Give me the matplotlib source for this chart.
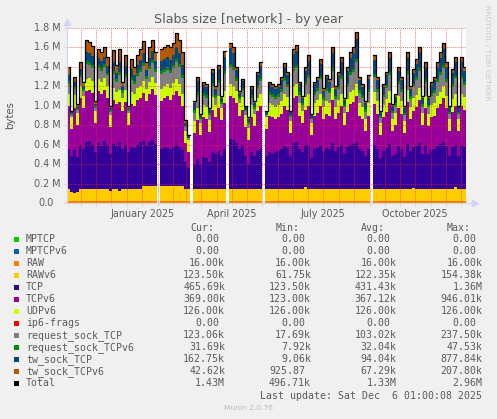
import numpy as np
import matplotlib
matplotlib.use("Agg")
import matplotlib.pyplot as plt
import matplotlib.dates as mdates
from matplotlib.patches import Rectangle
from matplotlib.transforms import blended_transform_factory
from datetime import date

N = None  # no data (gap in the rrd)

# 3-day samples starting 2 Nov 2024, values in kB
raw_v6 = [123.5, 95, 85, 100, 123.5, 123.5, 123.5, 123.5, 123.5, 123.5,
          123.5, 123.5, 123.5, 123.5, 105, 123.5, 123.5, 110, 123.5, 123.5,
          123.5, 123.5, 123.5, 123.5, 123.5, 154, 154, 154, 154, 154,
          N, 154, 154, 154, 154, 154, 154, 154, 154, 123.5,
          123.5, N, 123.5, 123.5, 123.5, 123.5, 123.5, 123.5, 123.5, 123.5,
          123.5, 123.5, 123.5, N, 123.5, 123.5, 123.5, 123.5, 123.5, 123.5,
          123.5, 123.5, 123.5, 123.5, 123.5, N, 123.5, 123.5, 123.5, 123.5,
          123.5, 123.5, 123.5, 123.5, 123.5, 123.5, 123.5, 123.5, 123.5, 145,
          123.5, 123.5, 123.5, 123.5, 123.5, 123.5, 123.5, 123.5, 123.5, 123.5,
          123.5, 123.5, 123.5, 123.5, 123.5, 123.5, 123.5, 123.5, 123.5, 123.5,
          123.5, N, 123.5, 123.5, 123.5, 123.5, 123.5, 123.5, 123.5, 123.5,
          123.5, 123.5, 123.5, 123.5, 123.5, 140, 123.5, 123.5, 123.5, 123.5,
          123.5, 123.5, 123.5, 123.5, 123.5, 123.5, 123.5, 123.5, 123.5, 145,
          123.5, 123.5, 123.5]

tcp = [420, 369, 439, 354, 460, 420, 490, 500, 460, 380,
       480, 450, 500, 460, 379, 470, 450, 504, 420, 460,
       380, 440, 430, 460, 490, 470, 430, 460, 480, 440,
       N, 390, 410, 400, 390, 410, 430, 410, 370, 280,
       220, N, 260, 310, 260, 330, 320, 280, 380, 360,
       400, 340, 420, N, 520, 510, 480, 420, 460, 340,
       260, 380, 340, 400, 420, N, 340, 380, 360, 380,
       400, 420, 450, 430, 340, 480, 490, 420, 380, 439,
       460, 320, 420, 430, 460, 400, 430, 420, 480, 400,
       440, 460, 360, 440, 460, 470, 490, 420, 400, 340,
       420, N, 460, 420, 320, 400, 430, 470, 340, 360,
       450, 420, 330, 470, 400, 424, 450, 480, 360, 450,
       360, 410, 420, 450, 470, 490, 450, 340, 440, 439,
       340, 460, 440]

tcp_v6 = [440, 280, 440, 330, 480, 420, 520, 520, 530, 300,
          530, 530, 520, 480, 280, 450, 430, 410, 390, 440,
          280, 440, 430, 460, 450, 490, 450, 490, 520, 500,
          N, 490, 500, 530, 500, 530, 550, 520, 460, 200,
          160, N, 320, 400, 300, 410, 400, 310, 440, 380,
          440, 370, 470, N, 440, 430, 410, 340, 360, 300,
          250, 360, 310, 410, 440, N, 280, 380, 380, 340,
          340, 360, 410, 390, 240, 460, 470, 340, 300, 360,
          400, 240, 340, 360, 400, 320, 350, 340, 440, 320,
          350, 400, 300, 360, 420, 430, 470, 340, 320, 260,
          340, N, 420, 360, 240, 340, 370, 420, 260, 300,
          390, 360, 250, 430, 320, 370, 400, 440, 300, 390,
          290, 330, 340, 390, 410, 450, 390, 260, 360, 400,
          260, 400, 380]

req_tcp = [98, 20, 68, 32, 86, 50, 150, 138, 134, 36,
           110, 110, 114, 106, 32, 142, 98, 154, 60, 130,
           24, 122, 98, 122, 138, 154, 98, 130, 142, 114,
           N, 150, 146, 146, 154, 154, 178, 170, 158, 36,
           18, N, 81, 132, 36, 96, 92, 47, 119, 76,
           128, 47, 168, N, 177, 164, 96, 47, 76, 36,
           40, 76, 51, 110, 132, N, 24, 87, 83, 83,
           83, 101, 128, 105, 40, 155, 164, 87, 60, 128,
           164, 36, 87, 96, 146, 76, 110, 101, 173, 83,
           119, 155, 60, 137, 168, 182, 227, 110, 92, 72,
           119, N, 155, 101, 47, 83, 114, 164, 60, 76,
           119, 101, 60, 159, 83, 123, 150, 173, 67, 141,
           72, 96, 110, 141, 168, 186, 141, 51, 128, 155,
           51, 155, 128]

req_tcp_v6 = [30, 15, 25, 15, 30, 20, 30, 30, 30, 15,
              30, 30, 30, 30, 15, 30, 30, 30, 25, 30,
              15, 30, 30, 30, 30, 30, 30, 30, 30, 30,
              N, 30, 30, 30, 30, 30, 30, 30, 30, 15,
              10, N, 25, 30, 15, 30, 30, 20, 30, 25,
              30, 20, 30, N, 30, 30, 30, 20, 25, 15,
              15, 25, 20, 30, 30, N, 10, 30, 30, 30,
              30, 30, 30, 30, 15, 30, 30, 30, 20, 30,
              30, 15, 30, 30, 30, 25, 30, 30, 30, 30,
              30, 30, 20, 30, 30, 30, 30, 30, 30, 25,
              30, N, 30, 30, 20, 30, 30, 30, 20, 25,
              30, 30, 20, 30, 30, 30, 30, 30, 25, 30,
              25, 30, 30, 30, 30, 30, 30, 20, 30, 30,
              20, 30, 30]

tw_tcp = [66, 13, 46, 21, 58, 33, 101, 93, 90, 24,
          74, 74, 77, 71, 21, 96, 66, 104, 40, 87,
          16, 82, 66, 82, 93, 104, 66, 87, 96, 77,
          N, 101, 98, 98, 104, 104, 120, 114, 106, 24,
          12, N, 72, 118, 32, 86, 82, 42, 106, 68,
          114, 42, 150, N, 158, 146, 86, 42, 68, 32,
          36, 68, 46, 98, 118, N, 22, 78, 74, 74,
          74, 90, 114, 94, 36, 138, 146, 78, 54, 114,
          146, 32, 78, 86, 130, 68, 98, 90, 154, 74,
          106, 138, 54, 122, 150, 162, 202, 98, 82, 64,
          106, N, 138, 90, 42, 74, 102, 146, 54, 68,
          106, 90, 54, 142, 74, 110, 134, 154, 60, 126,
          64, 86, 98, 126, 150, 166, 126, 46, 114, 138,
          46, 138, 114]

tw_tcp_v6 = [80, 16, 55, 26, 70, 41, 123, 113, 110, 29,
             90, 90, 93, 87, 26, 116, 80, 126, 49, 107,
             19, 100, 80, 100, 113, 126, 80, 107, 116, 93,
             N, 123, 120, 120, 126, 126, 146, 140, 130, 29,
             14, N, 27, 44, 12, 32, 31, 16, 40, 25,
             43, 16, 56, N, 59, 55, 32, 16, 25, 12,
             13, 25, 17, 37, 44, N, 8, 29, 28, 28,
             28, 34, 43, 35, 13, 52, 55, 29, 20, 43,
             55, 12, 29, 32, 49, 25, 37, 34, 58, 28,
             40, 52, 20, 46, 56, 61, 76, 37, 31, 24,
             40, N, 52, 34, 16, 28, 38, 55, 20, 25,
             40, 34, 20, 53, 28, 41, 50, 58, 22, 47,
             24, 32, 37, 47, 56, 62, 47, 17, 43, 52,
             17, 52, 43]

# flat series (kB)
raw_k = 16.0
udp_v6_k = 126.0

# legend table
names = ["MPTCP", "MPTCPv6", "RAW", "RAWv6", "TCP", "TCPv6", "UDPv6", "ip6-frags",
         "request_sock_TCP", "request_sock_TCPv6", "tw_sock_TCP", "tw_sock_TCPv6", "Total"]
colors = ["#00CC00", "#0066B3", "#FF8000", "#FFCC00", "#330099", "#990099", "#CCFF00",
          "#FF0000", "#808080", "#008F00", "#00487D", "#B35A00", "#000000"]
cur_vals = ["0.00", "0.00", "16.00k", "123.50k", "465.69k", "369.00k", "126.00k", "0.00",
            "123.06k", "31.69k", "162.75k", "42.62k", "1.43M"]
min_vals = ["0.00", "0.00", "16.00k", "61.75k", "123.50k", "123.00k", "126.00k", "0.00",
            "17.69k", "7.92k", "9.06k", "925.87", "496.71k"]
avg_vals = ["0.00", "0.00", "16.00k", "122.35k", "431.43k", "367.12k", "126.00k", "0.00",
            "103.02k", "32.04k", "94.04k", "67.29k", "1.33M"]
max_vals = ["0.00", "0.00", "16.00k", "154.38k", "1.36M", "946.01k", "126.00k", "0.00",
            "237.50k", "47.53k", "877.84k", "207.80k", "2.96M"]

start = date(2024, 11, 2)
end = date(2025, 12, 6)
step = 3

W, H = 497, 419
TXT = "#5a5a5a"
GRID = (0.9, 0.2, 0.2, 0.22)
AXIS = "#CFD6F8"

# series -> bytes
tcp = np.array(tcp, dtype=float)
n = len(tcp)
gap = np.isnan(tcp)
series = {
    "MPTCP": np.where(gap, np.nan, 0.0),
    "MPTCPv6": np.where(gap, np.nan, 0.0),
    "RAW": np.where(gap, np.nan, raw_k),
    "RAWv6": np.array(raw_v6, dtype=float),
    "TCP": tcp,
    "TCPv6": np.array(tcp_v6, dtype=float),
    "UDPv6": np.where(gap, np.nan, udp_v6_k),
    "ip6-frags": np.where(gap, np.nan, 0.0),
    "request_sock_TCP": np.array(req_tcp, dtype=float),
    "request_sock_TCPv6": np.array(req_tcp_v6, dtype=float),
    "tw_sock_TCP": np.array(tw_tcp, dtype=float),
    "tw_sock_TCPv6": np.array(tw_tcp_v6, dtype=float),
}

fig = plt.figure(figsize=(W / 100, H / 100), dpi=100, facecolor="#F0F0F0")
ax = fig.add_axes([67 / W, (H - 203) / H, 399 / W, 175 / H])
ax.set_facecolor("white")


def fpos(x, y):
    return x / W, 1 - y / H


x0 = mdates.date2num(start)
x = x0 + step * np.arange(n)

cum = np.zeros(n)
for name, color in zip(names[:-1], colors[:-1]):
    vals = series[name] * 1000
    ax.bar(x, vals, width=step, bottom=cum, align="edge", color=color, linewidth=0)
    cum = cum + vals
ax.plot(x + step / 2, cum, drawstyle="steps-mid", color="black", lw=0.9, zorder=3)

ax.set_xlim(x0, mdates.date2num(end))
ax.set_ylim(0, 1.8e6)
for s in ax.spines.values():
    s.set_visible(False)

# half-month grid, labels mid-quarter months
ticks, tick_labels = [], []
for yr, mo in [(2024, m) for m in (11, 12)] + [(2025, m) for m in range(1, 13)]:
    for d in (1, 16):
        dt = date(yr, mo, d)
        if start <= dt <= end:
            ticks.append(mdates.date2num(dt))
            tick_labels.append(dt.strftime("%B %Y") if d == 16 and mo in (1, 4, 7, 10) else "")
ax.set_xticks(ticks)
ax.set_xticklabels(tick_labels, fontsize=6.9, color=TXT)
ax.tick_params(axis="x", length=2, width=0.6, color=GRID, pad=2.2)

yt = np.arange(0, 1.8e6 + 1, 0.2e6)
ax.set_yticks(yt)
ax.set_yticklabels([])
ax.tick_params(axis="y", length=2, width=0.6, color=GRID)
ax.set_axisbelow(False)
ax.grid(True, color=GRID, linestyle=(0, (1, 1.6)), lw=0.55)

ytrans = blended_transform_factory(fig.transFigure, ax.transData)
for v in yt:
    lab = f"{v / 1e6:.1f} M" if v else "0.0"
    xr = 60.5 if v else 54
    ax.text(xr / W, v, lab, transform=ytrans, ha="right", va="center",
            fontsize=6.9, color=TXT)

# axis lines with arrows
ax.plot([0, 0], [0, 1.03], transform=ax.transAxes, color=AXIS, lw=0.8, clip_on=False, zorder=4)
ax.plot([0, 1.02], [0, 0], transform=ax.transAxes, color=AXIS, lw=0.8, clip_on=False, zorder=4)
ax.plot([0], [1.035], marker="^", ms=4, color=AXIS, transform=ax.transAxes, clip_on=False)
ax.plot([1.022], [0], marker=">", ms=4, color=AXIS, transform=ax.transAxes, clip_on=False)

fig.text(*fpos(248.5, 23.5), "Slabs size [network] - by year", ha="center", va="baseline",
         fontsize=9.1, color=TXT)
fig.text(*fpos(10, 115), "bytes", rotation=90, ha="center", va="center", fontsize=7.3, color=TXT)
fig.text(*fpos(487.5, 5), "RRDTOOL / TOBI OETIKER", rotation=270, ha="center", va="top",
         fontsize=5.4, color="#C8C8C8")

# legend
mono = dict(family="DejaVu Sans Mono", fontsize=7.1, color=TXT, va="center")
cw = 5.96
col_right = [225.2, 310.9, 396.6, 482.3]
for hx, h in zip([190, 275.5, 361, 446.7], ["Cur:", "Min:", "Avg:", "Max:"]):
    fig.text(*fpos(hx, 227.7), h, ha="left", **mono)
for i, name in enumerate(names):
    ry = 239.3 + 12.0 * i
    fig.add_artist(Rectangle(fpos(14, ry + 2.7), 5.3 / W, 5.3 / H, transform=fig.transFigure,
                             color=colors[i], lw=0))
    fig.text(*fpos(26, ry), name, ha="left", **mono)
    for xr, vals in zip(col_right, [cur_vals, min_vals, avg_vals, max_vals]):
        s = vals[i]
        off = 0 if s[-1].isalpha() else cw
        fig.text(*fpos(xr - off, ry), s, ha="right", **mono)
fig.text(*fpos(482.5, 395.7), "Last update: Sat Dec  6 01:00:08 2025", ha="right", **mono)
fig.text(*fpos(248, 407.7), "Munin 2.0.76", ha="center", va="center", fontsize=5.4, color="#BBBBBB")

fig.savefig("out.png", dpi=100, facecolor=fig.get_facecolor())
